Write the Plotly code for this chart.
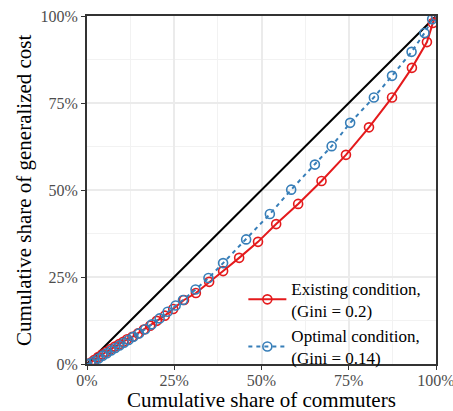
import plotly.graph_objects as go

# Lorenz curve points (cumulative share of commuters, cumulative share of cost), in %
existing_x = [0, 1.1, 2.0, 3.2, 4.4, 5.6, 6.8, 8.0, 9.2, 10.4, 11.5, 13.0, 14.6, 16.3,
              18.1, 20.0, 22.3, 24.7, 27.8, 31.2, 35.0, 39.0, 43.6, 49.0, 54.2, 60.5,
              67.2, 74.2, 80.8, 87.4, 93.1, 97.4, 99.1, 100]
existing_y = [0, 0.4, 1.1, 2.0, 2.8, 3.5, 4.3, 5.0, 5.7, 6.4, 7.1, 7.8, 8.8, 9.9,
              11.0, 12.4, 13.9, 15.8, 18.4, 20.4, 23.6, 26.7, 30.5, 35.1, 40.2, 46.0,
              52.6, 60.1, 68.0, 76.6, 85.1, 92.5, 98.0, 100]

optimal_x = [0, 1.0, 2.1, 3.3, 4.5, 5.7, 6.9, 8.1, 9.3, 10.6, 11.9, 13.3, 14.9, 16.7,
             18.6, 20.8, 23.1, 25.4, 27.5, 31.1, 34.8, 39.0, 45.6, 52.4, 58.5, 65.3,
             70.1, 75.4, 82.2, 87.4, 93.0, 96.7, 98.9, 100]
optimal_y = [0, 0.2, 0.8, 1.6, 2.4, 3.1, 3.9, 4.6, 5.3, 6.1, 6.9, 7.8, 8.8, 10.0,
             11.4, 13.1, 15.0, 16.8, 18.4, 21.4, 24.7, 29.0, 35.8, 43.1, 50.1, 57.3,
             62.6, 69.3, 76.6, 82.8, 89.7, 95.1, 99.1, 100]

equality = [0, 100]
tick_vals = [0, 25, 50, 75, 100]
tick_text = ["0%", "25%", "50%", "75%", "100%"]

RED = "#E41A1C"
BLUE = "#377EB8"
FONT = "Liberation Serif"

fig = go.Figure()

# line of perfect equality
fig.add_trace(go.Scatter(x=equality, y=equality, mode="lines",
                         line=dict(color="black", width=2), showlegend=False,
                         hoverinfo="skip"))

fig.add_trace(go.Scatter(
    x=existing_x, y=existing_y, mode="lines+markers",
    name="Existing condition,<br>(Gini = 0.2)",
    line=dict(color=RED, width=2),
    marker=dict(symbol="circle-open", size=9, color=RED, line=dict(width=1.6)),
))
fig.add_trace(go.Scatter(
    x=optimal_x, y=optimal_y, mode="lines+markers",
    name="Optimal condition,<br>(Gini = 0.14)",
    line=dict(color=BLUE, width=2, dash="4px,4px"),
    marker=dict(symbol="circle-open", size=9, color=BLUE, line=dict(width=1.6)),
))

axis_common = dict(
    range=[0, 100], tickvals=tick_vals, ticktext=tick_text,
    showgrid=True, gridcolor="#EBEBEB", gridwidth=1.5,
    minor=dict(dtick=12.5, showgrid=True, gridcolor="#F2F2F2", gridwidth=0.8),
    ticks="outside", ticklen=4, tickwidth=1.2, tickcolor="#333333",
    tickfont=dict(family=FONT, size=16, color="#4D4D4D"),
    ticklabeloverflow="allow",
    showline=True, linecolor="#333333", linewidth=2, mirror=True,
    zeroline=False, automargin=False,
)

fig.update_xaxes(**axis_common, ticklabelstandoff=-3)
fig.update_yaxes(**axis_common)

# axis titles
fig.add_annotation(text="Cumulative share of commuters", xref="paper", yref="paper",
                   x=0.5, y=0, yshift=-36, xanchor="center", yanchor="middle",
                   showarrow=False, font=dict(family=FONT, size=21, color="black"))
fig.add_annotation(text="Cumulative share of generalized cost", xref="paper", yref="paper",
                   x=0, y=0.5, xshift=-63, xanchor="center", yanchor="middle",
                   textangle=-90, showarrow=False,
                   font=dict(family=FONT, size=21, color="black"))

fig.update_layout(
    width=453, height=411,
    margin=dict(l=87, r=17, t=16, b=47),
    font=dict(family=FONT),
    plot_bgcolor="white", paper_bgcolor="white",
    showlegend=True,
    legend=dict(x=0.448, y=0.268, xanchor="left", yanchor="top",
                bgcolor="rgba(0,0,0,0)",
                font=dict(family=FONT, size=17, color="black"),
                itemwidth=38),
)

fig.write_html("out.html")
